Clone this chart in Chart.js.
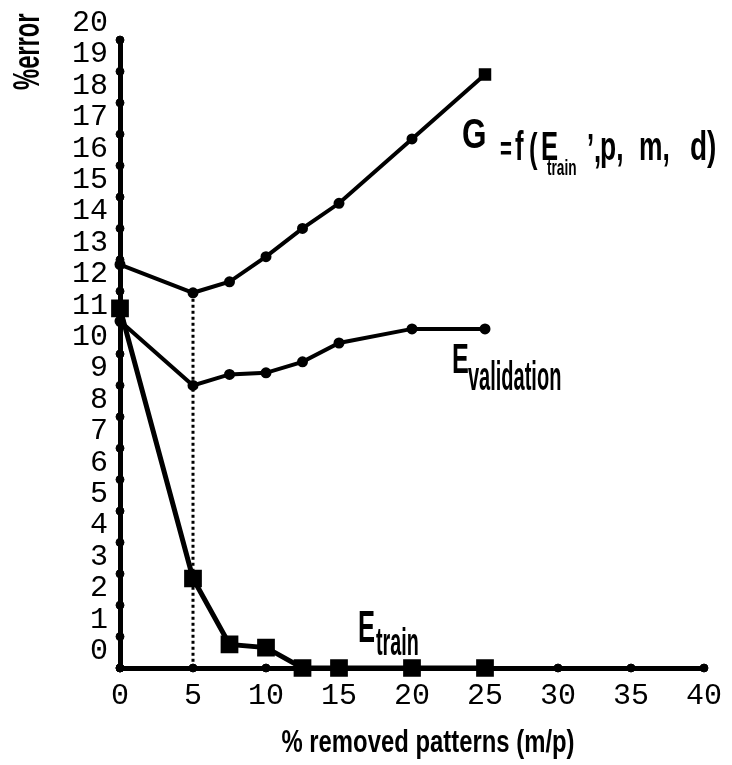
<!DOCTYPE html>
<html>
<head>
<meta charset="utf-8">
<script src="https://cdn.jsdelivr.net/npm/chart.js@4.4.0/dist/chart.umd.min.js"></script>
<style>
  html, body { margin: 0; padding: 0; background: #fff; }
  #wrap { width: 732px; height: 765px; }
</style>
</head>
<body>
<div id="wrap"><canvas id="my-chart" width="732" height="765"></canvas></div>
<script>
// values
const removedPct = [0, 5, 7.5, 10, 12.5, 15, 20, 25];
const gError = [12.85, 11.95, 12.3, 13.1, 14.0, 14.8, 16.85, 18.9];
const validationError = [11.05, 9.0, 9.35, 9.4, 9.75, 10.35, 10.8, 10.8];
const trainError = [11.45, 2.85, 0.75, 0.65, 0, 0, 0, 0];
const chosenPct = 5; // dotted marker line

const xTicks = [0, 5, 10, 15, 20, 25, 30, 35, 40];
const yTicks = [0, 1, 2, 3, 4, 5, 6, 7, 8, 9, 10, 11, 12, 13, 14, 15, 16, 17, 18, 19, 20];

const toPoints = (ys) => removedPct.map((x, i) => ({ x: x, y: ys[i] }));

// text drawn in a condensed bold face, like the scanned figure
function condText(ctx, txt, x, y, size, sx, align) {
    ctx.save();
    ctx.translate(x, y);
    ctx.scale(sx, 1);
    ctx.font = 'bold ' + size + 'px "Liberation Sans", Arial, sans-serif';
    ctx.textAlign = align || 'left';
    ctx.textBaseline = 'alphabetic';
    ctx.fillStyle = '#000';
    ctx.fillText(txt, 0, 0);
    ctx.restore();
}

const labelsPlugin = {
    id: 'labels',
    afterDraw(chart) {
        const ctx = chart.ctx;
        // y title
        ctx.save();
        ctx.translate(39, 90);
        ctx.rotate(-Math.PI / 2);
        condText(ctx, '%error', 0, 0, 36, 0.66);
        ctx.restore();
        // x title
        condText(ctx, '% removed patterns (m/p)', 428, 752, 31, 0.77, 'center');

        // G = f(E_train, p, m, d)
        condText(ctx, 'G', 462, 148, 42, 0.75);
        condText(ctx, '=', 500, 160, 34, 0.6);
        condText(ctx, 'f', 515, 160, 40, 0.64);
        condText(ctx, '(', 529, 162, 40, 0.64);
        condText(ctx, 'E', 541, 160, 40, 0.64);
        condText(ctx, 'train', 547, 175, 22, 0.62);
        condText(ctx, '\u2019,', 587, 162, 40, 0.64);
        condText(ctx, 'p,', 600, 160, 40, 0.66);
        condText(ctx, 'm,', 639, 160, 40, 0.66);
        condText(ctx, 'd)', 690, 160, 40, 0.7);

        // E_validation
        condText(ctx, 'E', 452, 373, 42, 0.6);
        condText(ctx, 'validation', 468, 390, 40, 0.5);

        // E_train
        condText(ctx, 'E', 358, 642, 44, 0.58);
        condText(ctx, 'train', 376, 655, 38, 0.52);
    }
};

const ctx = document.getElementById('my-chart').getContext('2d');

const chart = new Chart(ctx, {
    type: 'scatter',
    data: {
        datasets: [
            {
                label: 'G',
                data: toPoints(gError),
                showLine: true,
                borderColor: '#000',
                backgroundColor: '#000',
                borderWidth: 4,
                pointStyle: ['circle', 'circle', 'circle', 'circle', 'circle', 'circle', 'circle', 'rect'],
                pointRadius: [3.5, 3.5, 3.5, 3.5, 3.5, 3.5, 3.5, 6],
                clip: false
            },
            {
                label: 'E validation',
                data: toPoints(validationError),
                showLine: true,
                borderColor: '#000',
                backgroundColor: '#000',
                borderWidth: 4,
                pointStyle: 'circle',
                pointRadius: 3.5,
                clip: false
            },
            {
                label: 'E train',
                data: toPoints(trainError),
                showLine: true,
                borderColor: '#000',
                backgroundColor: '#000',
                borderWidth: 5,
                pointStyle: 'rect',
                pointRadius: 9,
                clip: false
            },
            {
                label: 'chosen',
                data: [{ x: chosenPct, y: gError[removedPct.indexOf(chosenPct)] }, { x: chosenPct, y: 0 }],
                showLine: true,
                borderColor: '#000',
                borderWidth: 3,
                borderDash: [3, 3],
                pointRadius: 0,
                clip: false
            },
            {
                label: 'y ticks',
                data: yTicks.map(v => ({ x: 0, y: v })),
                showLine: false,
                backgroundColor: '#000',
                borderColor: '#000',
                pointRadius: 4,
                clip: false
            },
            {
                label: 'x ticks',
                data: xTicks.map(v => ({ x: v, y: 0 })),
                showLine: false,
                backgroundColor: '#000',
                borderColor: '#000',
                pointRadius: 4,
                clip: false
            }
        ]
    },
    options: {
        responsive: false,
        animation: false,
        layout: { padding: { top: 40, right: 28, left: 0, bottom: 0 } },
        plugins: {
            legend: { display: false },
            tooltip: { enabled: false }
        },
        scales: {
            x: {
                type: 'linear',
                min: 0,
                max: 40,
                afterBuildTicks: scale => { scale.ticks = xTicks.map(v => ({ value: v })); },
                afterFit: scale => { scale.height = 97; },
                grid: { display: false },
                border: { display: true, color: '#000', width: 5 },
                ticks: {
                    color: '#000',
                    padding: 2,
                    autoSkip: false,
                    maxRotation: 0,
                    font: { family: '"Liberation Mono", monospace', size: 30 }
                }
            },
            y: {
                type: 'linear',
                min: 0,
                max: 20,
                afterBuildTicks: scale => { scale.ticks = yTicks.map(v => ({ value: v })); },
                afterFit: scale => { scale.width = 120; },
                grid: { display: false },
                border: { display: true, color: '#000', width: 5 },
                ticks: {
                    color: '#000',
                    padding: 4,
                    autoSkip: false,
                    labelOffset: -17,
                    font: { family: '"Liberation Mono", monospace', size: 30 }
                }
            }
        }
    },
    plugins: [labelsPlugin]
});
</script>
</body>
</html>
